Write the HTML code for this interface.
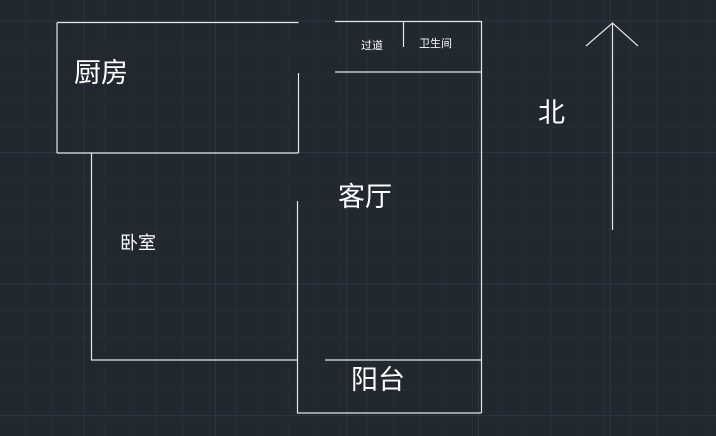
<!DOCTYPE html>
<html><head><meta charset="utf-8"><style>
html,body{margin:0;padding:0;background:#212830;}
svg{display:block}
text{font-family:"Liberation Sans","Noto Sans CJK SC",sans-serif;fill:#fff}
</style></head><body>
<svg width="716" height="436" xmlns="http://www.w3.org/2000/svg">
<defs>
<pattern id="g" x="-1.5" y="-5.3" width="26.3" height="26.3" patternUnits="userSpaceOnUse">
<path d="M0.5 0V26.3M0 0.5H26.3" stroke="#262d36" stroke-width="1"/>
</pattern>
<pattern id="G" x="83.5" y="20.5" width="131.5" height="131.5" patternUnits="userSpaceOnUse">
<path d="M0.5 0V131.5M0 0.5H131.5" stroke="#2d3540" stroke-width="1"/>
</pattern>
</defs>
<rect width="716" height="436" fill="#212830"/>
<rect width="716" height="436" fill="url(#g)"/>
<rect width="716" height="436" fill="url(#G)"/>
<g stroke="#e6e6e6" stroke-width="1.2" fill="none">
<path d="M57 22.5H298.5M57 22.5V153M57 153H298.5M298.5 73V153"/>
<path d="M335 21.5H481.5V413M335 72H481.5M403.5 21.5V47"/>
<path d="M91.5 153V360M91 360H297.5"/>
<path d="M297.5 201V413H481.5M325 360H481.5"/>
<path d="M612.5 23V230M586 46L612.5 23L638 46"/>
</g>
<text x="74" y="82" font-size="27">厨房</text>
<text x="361" y="49" font-size="11">过道</text>
<text x="419" y="47" font-size="11">卫生间</text>
<text x="338" y="206" font-size="27">客厅</text>
<text x="120" y="249" font-size="18">卧室</text>
<text x="351" y="389" font-size="27">阳台</text>
<text x="538" y="122" font-size="27">北</text>
</svg>
</body></html>
